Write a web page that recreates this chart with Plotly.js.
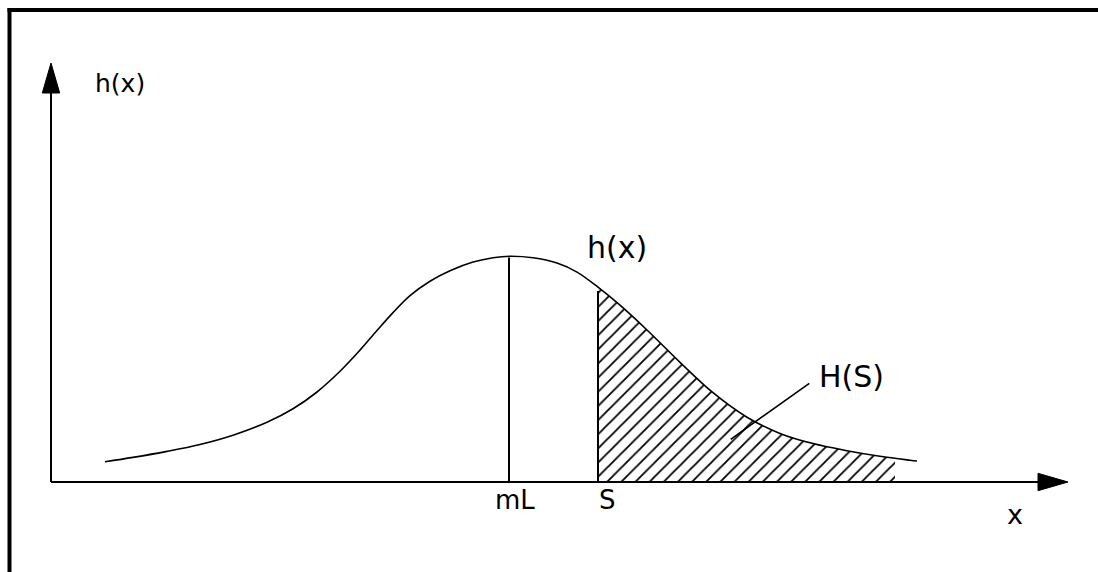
<!DOCTYPE html>
<html>
<head>
<meta charset="utf-8">
<script src="https://cdn.plot.ly/plotly-3.0.1.min.js"></script>
<style>
  html, body { margin: 0; padding: 0; background: #fff; }
  #chart { width: 1098px; height: 572px; }
</style>
</head>
<body>
<div id="chart"></div>
<script>
// Curve h(x) (x along the axis, h height above the axis)
const curveX = [54, 82, 116, 149, 182, 216, 242, 266, 289, 309, 326, 342, 359, 379, 399, 422, 442, 459, 482, 506, 526, 547, 569, 596, 629, 662, 696, 729, 762, 796, 829, 859, 866];
const curveH = [20.3, 24.6, 30.6, 37.5, 46.8, 59.7, 73.2, 90.0, 110.7, 131.9, 151.5, 169.4, 186.4, 200.8, 211.2, 219.9, 224.3, 225.7, 224.2, 218.9, 209.9, 194.8, 176.8, 152.0, 119.7, 89.3, 64.8, 48.6, 38.4, 31.3, 25.7, 21.8, 21.0];

// Hatched area H(S): from S to the end of the hatching
const shadeX = [547, 569, 596, 629, 662, 696, 729, 762, 796, 829, 844];
const shadeH = [194.8, 176.8, 152.0, 119.7, 89.3, 64.8, 48.6, 38.4, 31.3, 25.7, 23.8];

// Marked positions on the x axis
const markX = [458, 547];          // mL, S
const markH = [224.5, 191];        // heights of the vertical lines
const markLabels = ['mL', 'S'];

// Axis extents
const xAxisEnd = 1017;   // arrow tip of x axis
const yAxisEnd = 419;    // arrow tip of y axis

// Text labels
const labelText = ['h(x)', 'h(x)', 'H(S)', 'x'];
const labelX = [69, 566, 800, 964];
const labelY = [399, 235, 106, -32];
const labelSize = [25, 30, 30, 27];

// Leader line for H(S)
const leaderX = [758.3, 679.7];
const leaderY = [98.7, 42.7];

const FONT = '"DejaVu Sans ExtraLight", "DejaVu Sans", sans-serif';
const traces = [];

// Hatched fill
traces.push({
  x: shadeX, y: shadeH, type: 'scatter', mode: 'lines',
  line: { width: 0, shape: 'spline', smoothing: 1, simplify: false, color: 'rgba(0,0,0,0)' },
  fill: 'tozeroy', fillcolor: 'rgba(0,0,0,0)',
  fillpattern: { shape: '/', size: 10, solidity: 0.18, fgcolor: '#000', bgcolor: 'rgba(0,0,0,0)' },
  hoverinfo: 'skip'
});

// Curve
traces.push({
  x: curveX, y: curveH, type: 'scatter', mode: 'lines',
  line: { color: '#000', width: 1.6, shape: 'spline', smoothing: 1, simplify: false },
  hoverinfo: 'skip'
});

// Vertical markers mL and S
markX.forEach((mx, i) => {
  traces.push({
    x: [mx, mx], y: [0, markH[i]], type: 'scatter', mode: 'lines',
    line: { color: '#000', width: 2 }, hoverinfo: 'skip'
  });
});

// Leader line
traces.push({
  x: leaderX, y: leaderY, type: 'scatter', mode: 'lines',
  line: { color: '#000', width: 1.6 }, hoverinfo: 'skip'
});

const shapes = [];
// Frame (top and left)
shapes.push({ type: 'line', xref: 'paper', yref: 'paper', x0: 7.5 / 1098, x1: 1, y0: 1 - 10 / 572, y1: 1 - 10 / 572, line: { color: '#000', width: 4 } });
shapes.push({ type: 'line', xref: 'paper', yref: 'paper', x0: 9.5 / 1098, x1: 9.5 / 1098, y0: 0, y1: 1 - 8 / 572, line: { color: '#000', width: 4 } });

// Axes with arrowheads
const headLen = 30, headHalf = 8.7;
shapes.push({ type: 'line', xref: 'x', yref: 'y', x0: 0, y0: 0, x1: xAxisEnd - headLen + 1, y1: 0, line: { color: '#000', width: 2 } });
shapes.push({ type: 'line', xref: 'x', yref: 'y', x0: 0, y0: 0, x1: 0, y1: yAxisEnd - headLen + 1, line: { color: '#000', width: 2 } });
shapes.push({ type: 'path', xref: 'x', yref: 'y',
  path: `M${xAxisEnd},0 L${xAxisEnd - headLen},${headHalf} L${xAxisEnd - headLen},${-headHalf} Z`,
  fillcolor: '#000', line: { color: '#000', width: 1 } });
shapes.push({ type: 'path', xref: 'x', yref: 'y',
  path: `M0,${yAxisEnd} L${-headHalf},${yAxisEnd - headLen} L${headHalf},${yAxisEnd - headLen} Z`,
  fillcolor: '#000', line: { color: '#000', width: 1 } });

const annotations = [];
labelText.forEach((t, i) => {
  annotations.push({ x: labelX[i], y: labelY[i], xref: 'x', yref: 'y', text: t, showarrow: false,
    xanchor: 'center', yanchor: 'middle', font: { family: FONT, size: labelSize[i], color: '#000' } });
});
markLabels.forEach((t, i) => {
  annotations.push({ x: markX[i] + (i === 0 ? 6 : 9), y: -18, xref: 'x', yref: 'y', text: t, showarrow: false,
    xanchor: 'center', yanchor: 'middle', font: { family: FONT, size: 26, color: '#000' } });
});

const layout = {
  width: 1098, height: 572,
  margin: { l: 0, r: 0, t: 0, b: 0, pad: 0 },
  paper_bgcolor: '#fff', plot_bgcolor: '#fff',
  showlegend: false,
  xaxis: { range: [-51, 1047], visible: false, fixedrange: true },
  yaxis: { range: [-90, 482], visible: false, fixedrange: true },
  shapes: shapes,
  annotations: annotations
};

Plotly.newPlot('chart', traces, layout, { staticPlot: true, displayModeBar: false });
</script>
</body>
</html>
